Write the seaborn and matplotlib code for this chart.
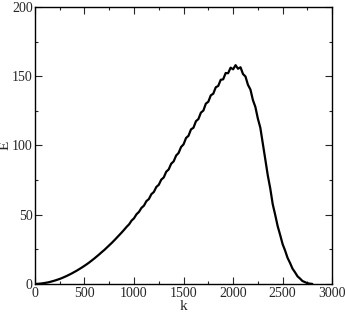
import numpy as np
import pandas as pd
import matplotlib
matplotlib.use("Agg")
import matplotlib.pyplot as plt
from matplotlib.ticker import MultipleLocator
import seaborn as sns

# valeurs (pas de 25 en k)
k_values = list(range(0, 2801, 25))
E_values = [
    0.0, 0.05, 0.2, 0.4, 0.7, 1.0, 1.4, 1.9, 2.4, 3.0,
    3.6, 4.3, 5.1, 5.9, 6.8, 7.7, 8.7, 9.7, 10.8, 11.9,
    13.1, 14.3, 15.6, 17.0, 18.4, 19.9, 21.4, 23.0, 24.5, 26.2,
    27.9, 29.6, 31.4, 33.3, 35.2, 37.1, 39.1, 41.2, 43.0, 45.7,
    47.4, 50.3, 52.0, 54.9, 56.5, 59.8, 61.3, 64.8, 66.4, 70.0,
    71.6, 75.3, 76.9, 81.0, 82.7, 86.8, 88.5, 92.7, 94.6, 98.9,
    100.8, 105.4, 107.0, 111.6, 112.8, 117.5, 119.1, 123.7, 125.2, 130.2,
    131.6, 136.2, 137.4, 142.0, 143.0, 147.4, 147.8, 152.3, 152.2, 156.2,
    155.0, 158.0, 155.4, 156.5, 151.6, 149.8, 143.8, 140.4, 132.8, 127.8,
    119.4, 112.8, 101.4, 90.0, 78.5, 69.0, 57.6, 49.9, 41.7, 35.4,
    28.7, 24.1, 18.8, 15.1, 11.0, 8.4, 5.5, 3.9, 2.1, 1.3,
    0.5, 0.2, 0.0,
]

x_ticks = [0, 500, 1000, 1500, 2000, 2500, 3000]
y_ticks = [0, 50, 100, 150, 200]

df = pd.DataFrame({"k": k_values, "E": E_values})

sns.set_style("ticks")
plt.rcParams["font.family"] = ["Liberation Serif", "DejaVu Serif"]

fig = plt.figure(figsize=(3.46, 3.19), dpi=100)
ax = fig.add_axes([0.101, 0.110, 0.859, 0.868])

sns.lineplot(data=df, x="k", y="E", color="black", linewidth=1.6, ax=ax)

ax.set_xlim(0, 3000)
ax.set_ylim(0, 200)
ax.set_xticks(x_ticks)
ax.set_yticks(y_ticks)
ax.xaxis.set_minor_locator(MultipleLocator(250))
ax.yaxis.set_minor_locator(MultipleLocator(25))
ax.tick_params(which="both", direction="in", top=True, right=True,
               labelsize=10, width=0.8, pad=2)
ax.tick_params(axis="y", pad=1.5)
ax.tick_params(which="major", length=5)
ax.tick_params(which="minor", length=2.5)
for s in ax.spines.values():
    s.set_linewidth(1.0)
    s.set_color("black")

ax.set_xlabel("k", fontsize=11, labelpad=0)
ax.set_ylabel("E", fontsize=11, va="center")
ax.yaxis.set_label_coords(-0.1, 0.5)

fig.savefig("out.png", dpi=100)
